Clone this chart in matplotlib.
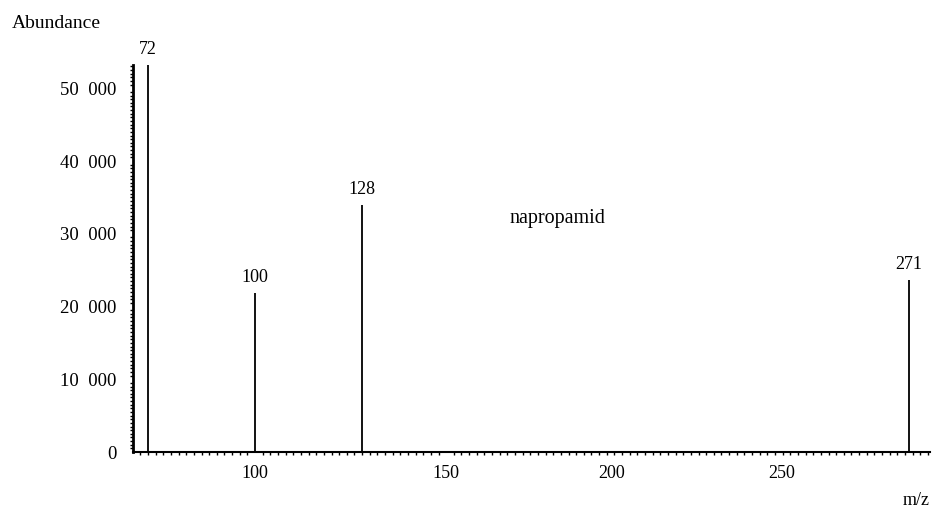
import matplotlib
matplotlib.use('agg')
import matplotlib.pyplot as plt
from matplotlib.ticker import MultipleLocator, FixedLocator

plt.rcParams['font.family'] = ['Liberation Serif', 'DejaVu Serif']

# espectro de masas: m/z y abundancia de los picos principales
mz = [72, 100, 128, 271]
abundancia = [53200, 21900, 33900, 23600]
etiquetas_picos = ['72', '100', '128', '271']

yticks = [0, 10000, 20000, 30000, 40000, 50000]
ytick_labels = ['0', '10  000', '20  000', '30  000', '40  000', '50  000']
xtick_pos = [100, 150, 193.2, 237.8]
xtick_labels = ['100', '150', '200', '250']

compuesto = 'napropamid'

fig = plt.figure(figsize=(9.32, 5.16), dpi=100)
ax = fig.add_axes([0.1427, 0.124, 0.855, 0.75])

ax.vlines(mz, 0, abundancia, color='black', linewidth=1.3)
for x, y, t in zip(mz, abundancia, etiquetas_picos):
    ax.annotate(t, (x, y), xytext=(0, 5), textcoords='offset points',
                ha='center', va='bottom', fontsize=13)

ax.text(166.5, 32100, compuesto, fontsize=14.5, ha='left', va='center')

ax.set_xlim(68.08, 276.5)
ax.set_ylim(0, 53200)

ax.spines['top'].set_visible(False)
ax.spines['right'].set_visible(False)
ax.spines['left'].set_linewidth(2.0)
ax.spines['bottom'].set_linewidth(1.5)

ax.yaxis.set_major_locator(FixedLocator(yticks))
ax.set_yticklabels(ytick_labels, fontsize=13.5)
ax.yaxis.set_minor_locator(MultipleLocator(500))
ax.xaxis.set_major_locator(FixedLocator(xtick_pos))
ax.set_xticklabels(xtick_labels, fontsize=13)
ax.xaxis.set_minor_locator(MultipleLocator(2))

ax.tick_params(axis='y', which='major', length=0, pad=12)
ax.tick_params(axis='y', which='minor', length=2.5, width=1.0, direction='out')
ax.tick_params(axis='x', which='major', length=0, pad=9)
ax.tick_params(axis='x', which='minor', length=2, width=1.0, direction='out')

fig.text(0.013, 0.955, 'Abundance', fontsize=14, ha='left', va='center')
fig.text(0.997, 0.03, 'm/z', fontsize=13, ha='right', va='center')

plt.savefig('out.png', dpi=100)
